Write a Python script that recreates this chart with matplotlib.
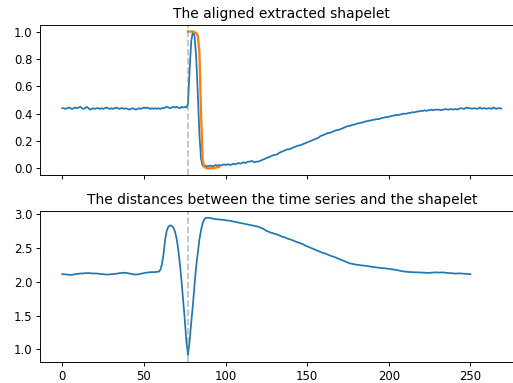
import matplotlib.pyplot as plt
from matplotlib.ticker import MultipleLocator
import numpy as np

# time series (one sample per step, 0..269)
series = [
    0.44, 0.44, 0.435, 0.44, 0.445, 0.44, 0.435, 0.44, 0.445, 0.44,
    0.445, 0.45, 0.44, 0.435, 0.44, 0.45, 0.44, 0.43, 0.435, 0.44,
    0.435, 0.44, 0.44, 0.435, 0.44, 0.435, 0.44, 0.445, 0.44, 0.435,
    0.44, 0.435, 0.44, 0.445, 0.44, 0.435, 0.44, 0.44, 0.435, 0.44,
    0.435, 0.43, 0.435, 0.44, 0.435, 0.43, 0.435, 0.44, 0.435, 0.44,
    0.445, 0.44, 0.445, 0.44, 0.435, 0.44, 0.435, 0.44, 0.435, 0.44,
    0.435, 0.44, 0.44, 0.445, 0.45, 0.445, 0.44, 0.445, 0.45, 0.445,
    0.45, 0.445, 0.44, 0.45, 0.445, 0.45, 0.445, 0.47, 0.72, 0.93,
    1.0, 0.97, 0.82, 0.55, 0.25, 0.07, 0.02, 0.015, 0.02, 0.015,
    0.02, 0.02, 0.015, 0.02, 0.025, 0.02, 0.025, 0.02, 0.025, 0.03,
    0.025, 0.03, 0.03, 0.025, 0.03, 0.035, 0.03, 0.035, 0.04, 0.035,
    0.04, 0.045, 0.04, 0.045, 0.05, 0.05, 0.055, 0.05, 0.045, 0.05,
    0.05, 0.055, 0.06, 0.065, 0.07, 0.075, 0.08, 0.085, 0.09, 0.095,
    0.10, 0.10, 0.105, 0.115, 0.12, 0.125, 0.13, 0.135, 0.14, 0.14,
    0.145, 0.15, 0.155, 0.16, 0.165, 0.168, 0.17, 0.175, 0.18, 0.185,
    0.19, 0.195, 0.20, 0.205, 0.21, 0.215, 0.22, 0.225, 0.235, 0.24,
    0.245, 0.25, 0.255, 0.26, 0.26, 0.265, 0.27, 0.275, 0.28, 0.28,
    0.285, 0.29, 0.295, 0.30, 0.305, 0.31, 0.31, 0.315, 0.32, 0.32,
    0.325, 0.33, 0.33, 0.335, 0.335, 0.34, 0.345, 0.345, 0.35, 0.35,
    0.355, 0.355, 0.36, 0.36, 0.36, 0.365, 0.37, 0.37, 0.375, 0.375,
    0.378, 0.38, 0.385, 0.385, 0.39, 0.39, 0.39, 0.395, 0.395, 0.40,
    0.40, 0.40, 0.405, 0.405, 0.41, 0.41, 0.41, 0.415, 0.415, 0.42,
    0.42, 0.42, 0.425, 0.42, 0.425, 0.425, 0.43, 0.425, 0.428, 0.43,
    0.428, 0.43, 0.425, 0.43, 0.43, 0.435, 0.43, 0.43, 0.435, 0.43,
    0.432, 0.435, 0.43, 0.435, 0.44, 0.438, 0.435, 0.44, 0.445, 0.44,
    0.44, 0.435, 0.44, 0.44, 0.435, 0.44, 0.445, 0.435, 0.44, 0.44,
    0.435, 0.44, 0.44, 0.435, 0.445, 0.44, 0.435, 0.44, 0.44, 0.437,
]

# shapelet, aligned on the best matching position
shapelet_start = 77
shapelet = [
    1.0, 1.0, 1.0, 1.0, 0.995, 0.99, 0.97, 0.85, 0.40, 0.06,
    0.01, 0.005, 0.0, 0.0, 0.005, 0.0, 0.005, 0.005, 0.01, 0.01,
]

# sliding distance between series and shapelet (0..250)
distances = [
    2.11, 2.11, 2.105, 2.105, 2.10, 2.10, 2.10, 2.105, 2.11, 2.115,
    2.115, 2.12, 2.12, 2.12, 2.125, 2.125, 2.125, 2.125, 2.12, 2.12,
    2.12, 2.12, 2.115, 2.115, 2.11, 2.11, 2.105, 2.105, 2.105, 2.105,
    2.11, 2.11, 2.115, 2.115, 2.12, 2.125, 2.125, 2.13, 2.13, 2.13,
    2.125, 2.12, 2.115, 2.11, 2.105, 2.105, 2.105, 2.11, 2.115, 2.12,
    2.125, 2.13, 2.135, 2.135, 2.14, 2.14, 2.14, 2.14, 2.145, 2.145,
    2.17, 2.25, 2.40, 2.62, 2.75, 2.81, 2.83, 2.82, 2.80, 2.74,
    2.64, 2.48, 2.27, 2.02, 1.74, 1.45, 1.12, 0.92, 1.12, 1.40,
    1.65, 1.95, 2.22, 2.42, 2.62, 2.76, 2.86, 2.92, 2.94, 2.94,
    2.94, 2.935, 2.93, 2.925, 2.92, 2.92, 2.915, 2.915, 2.91, 2.91,
    2.905, 2.90, 2.90, 2.895, 2.89, 2.885, 2.88, 2.875, 2.87, 2.865,
    2.86, 2.855, 2.85, 2.845, 2.84, 2.835, 2.83, 2.825, 2.82, 2.815,
    2.81, 2.80, 2.79, 2.78, 2.765, 2.75, 2.74, 2.73, 2.72, 2.715,
    2.705, 2.70, 2.69, 2.68, 2.67, 2.66, 2.655, 2.645, 2.635, 2.625,
    2.62, 2.61, 2.60, 2.59, 2.58, 2.575, 2.565, 2.555, 2.545, 2.53,
    2.52, 2.51, 2.50, 2.49, 2.48, 2.47, 2.46, 2.45, 2.44, 2.43,
    2.42, 2.415, 2.405, 2.395, 2.385, 2.375, 2.37, 2.36, 2.35, 2.34,
    2.33, 2.32, 2.31, 2.30, 2.29, 2.28, 2.27, 2.265, 2.26, 2.255,
    2.25, 2.248, 2.245, 2.24, 2.238, 2.235, 2.233, 2.23, 2.225, 2.22,
    2.218, 2.215, 2.21, 2.208, 2.205, 2.20, 2.20, 2.198, 2.195, 2.19,
    2.19, 2.185, 2.18, 2.178, 2.175, 2.17, 2.165, 2.16, 2.155, 2.15,
    2.148, 2.145, 2.143, 2.14, 2.14, 2.138, 2.138, 2.137, 2.136, 2.135,
    2.135, 2.133, 2.132, 2.13, 2.128, 2.13, 2.133, 2.135, 2.135, 2.136,
    2.135, 2.133, 2.135, 2.136, 2.133, 2.13, 2.128, 2.125, 2.125, 2.122,
    2.12, 2.118, 2.12, 2.122, 2.12, 2.117, 2.115, 2.115, 2.113, 2.112,
    2.11,
]

best_pos = int(np.argmin(distances))

dpi = 100 * 5 / 6
fig = plt.figure(figsize=(513 / dpi, 383 / dpi), dpi=dpi)
ax1 = fig.add_axes([0.0787, 0.5423, 0.9413, 0.3932])
ax2 = fig.add_axes([0.0787, 0.0556, 0.9413, 0.3935], sharex=ax1)

ax1.plot(np.arange(len(series)), series, color="tab:blue")
ax1.plot(np.arange(shapelet_start, shapelet_start + len(shapelet)), shapelet,
         color="tab:orange", lw=2)
ax1.axvline(best_pos, color="gray", alpha=0.5, linestyle="--")
ax1.set_title("The aligned extracted shapelet")
ax1.yaxis.set_major_locator(MultipleLocator(0.2))
ax1.tick_params(labelbottom=False)

ax2.plot(np.arange(len(distances)), distances, color="tab:blue")
ax2.axvline(best_pos, color="gray", alpha=0.5, linestyle="--")
ax2.set_title("The distances between the time series and the shapelet")

fig.savefig("out.png", dpi=dpi)
